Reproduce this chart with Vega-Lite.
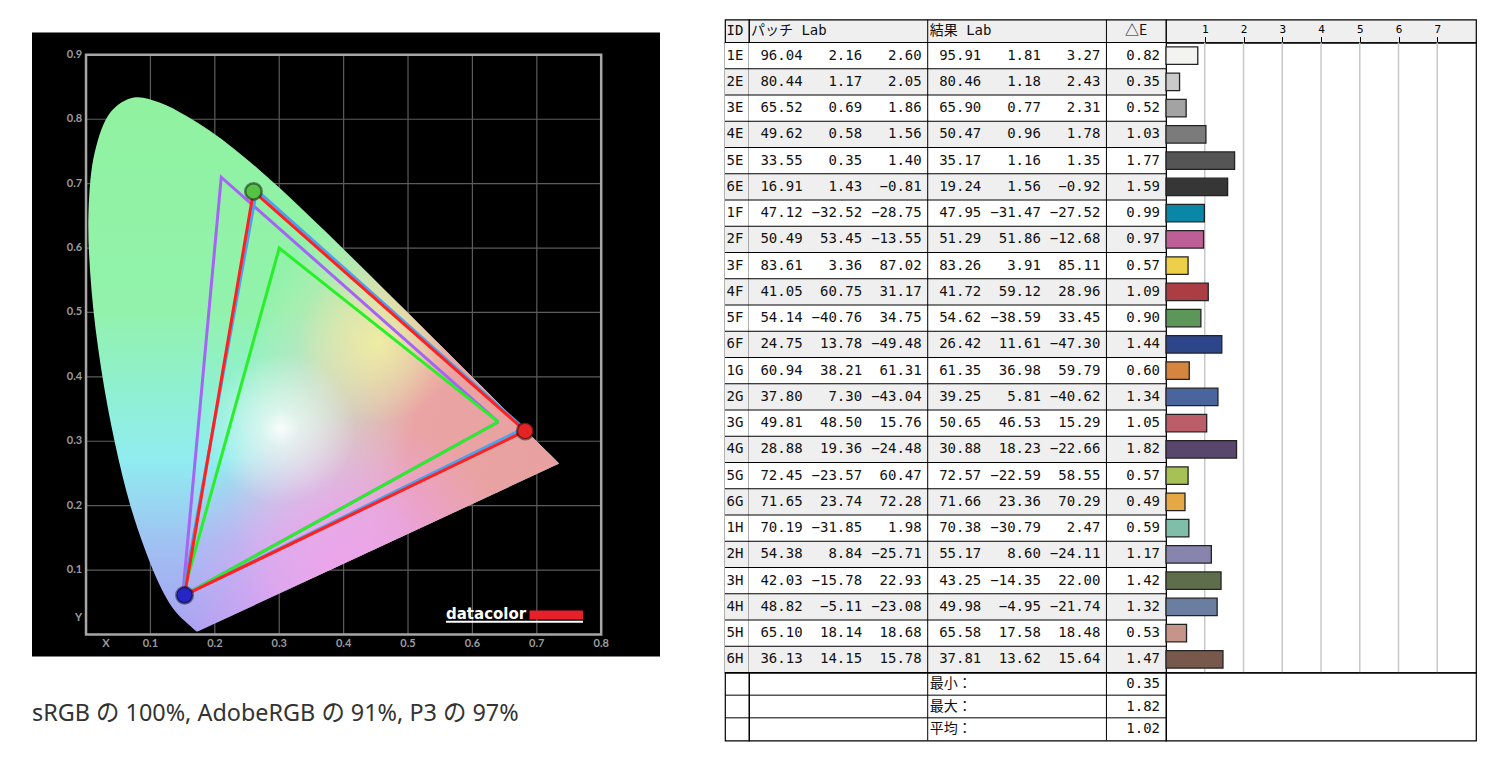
{
  "$schema": "https://vega.github.io/schema/vega-lite/v6.json",
  "background": "#ffffff",
  "padding": {"left": 32, "top": 17.5, "right": 0, "bottom": 0},
  "spacing": 65,
  "bounds": "flush",
  "locale": {"number": {"decimal": ".", "thousands": ",", "grouping": [3], "currency": ["$", ""], "minus": "-"}},
  "resolve": {"scale": {"color": "independent", "fill": "independent", "stroke": "independent"}},
  "datasets": {
    "locus": [
      {"nm": 380, "x": 0.1741, "y": 0.0050}, {"nm": 400, "x": 0.1733, "y": 0.0048}, {"nm": 420, "x": 0.1714, "y": 0.0051},
      {"nm": 430, "x": 0.1689, "y": 0.0069}, {"nm": 440, "x": 0.1644, "y": 0.0109}, {"nm": 450, "x": 0.1566, "y": 0.0177},
      {"nm": 455, "x": 0.1510, "y": 0.0227}, {"nm": 460, "x": 0.1440, "y": 0.0297}, {"nm": 465, "x": 0.1355, "y": 0.0399},
      {"nm": 470, "x": 0.1241, "y": 0.0578}, {"nm": 475, "x": 0.1096, "y": 0.0868}, {"nm": 480, "x": 0.0913, "y": 0.1327},
      {"nm": 485, "x": 0.0687, "y": 0.2007}, {"nm": 490, "x": 0.0454, "y": 0.2950}, {"nm": 495, "x": 0.0235, "y": 0.4127},
      {"nm": 500, "x": 0.0082, "y": 0.5384}, {"nm": 505, "x": 0.0039, "y": 0.6548}, {"nm": 510, "x": 0.0139, "y": 0.7502},
      {"nm": 515, "x": 0.0389, "y": 0.8120}, {"nm": 520, "x": 0.0743, "y": 0.8338}, {"nm": 525, "x": 0.1142, "y": 0.8262},
      {"nm": 530, "x": 0.1547, "y": 0.8059}, {"nm": 535, "x": 0.1929, "y": 0.7816}, {"nm": 540, "x": 0.2296, "y": 0.7543},
      {"nm": 545, "x": 0.2658, "y": 0.7243}, {"nm": 550, "x": 0.3016, "y": 0.6923}, {"nm": 555, "x": 0.3373, "y": 0.6589},
      {"nm": 560, "x": 0.3731, "y": 0.6245}, {"nm": 565, "x": 0.4087, "y": 0.5896}, {"nm": 570, "x": 0.4441, "y": 0.5547},
      {"nm": 575, "x": 0.4788, "y": 0.5202}, {"nm": 580, "x": 0.5125, "y": 0.4866}, {"nm": 585, "x": 0.5448, "y": 0.4544},
      {"nm": 590, "x": 0.5752, "y": 0.4242}, {"nm": 595, "x": 0.6029, "y": 0.3965}, {"nm": 600, "x": 0.6270, "y": 0.3725},
      {"nm": 605, "x": 0.6482, "y": 0.3514}, {"nm": 610, "x": 0.6658, "y": 0.3340}, {"nm": 620, "x": 0.6915, "y": 0.3083},
      {"nm": 630, "x": 0.7079, "y": 0.2920}, {"nm": 640, "x": 0.7190, "y": 0.2809}, {"nm": 650, "x": 0.7260, "y": 0.2740},
      {"nm": 660, "x": 0.7300, "y": 0.2700}, {"nm": 680, "x": 0.7334, "y": 0.2666}, {"nm": 700, "x": 0.7347, "y": 0.2653}
    ],
    "gamuts": [
      {"g": "AdobeRGB", "v": 0, "x": 0.64, "y": 0.33}, {"g": "AdobeRGB", "v": 1, "x": 0.21, "y": 0.71},
      {"g": "AdobeRGB", "v": 2, "x": 0.15, "y": 0.06}, {"g": "AdobeRGB", "v": 3, "x": 0.64, "y": 0.33},
      {"g": "sRGB", "v": 0, "x": 0.64, "y": 0.33}, {"g": "sRGB", "v": 1, "x": 0.30, "y": 0.60},
      {"g": "sRGB", "v": 2, "x": 0.15, "y": 0.06}, {"g": "sRGB", "v": 3, "x": 0.64, "y": 0.33},
      {"g": "P3", "v": 0, "x": 0.68, "y": 0.32}, {"g": "P3", "v": 1, "x": 0.265, "y": 0.69},
      {"g": "P3", "v": 2, "x": 0.15, "y": 0.06}, {"g": "P3", "v": 3, "x": 0.68, "y": 0.32},
      {"g": "measured", "v": 0, "x": 0.682, "y": 0.316}, {"g": "measured", "v": 1, "x": 0.260, "y": 0.688},
      {"g": "measured", "v": 2, "x": 0.153, "y": 0.061}, {"g": "measured", "v": 3, "x": 0.682, "y": 0.316}
    ],
    "patches": [
      {"id": "1E", "pL": 96.04, "pa": 2.16, "pb": 2.60, "rL": 95.91, "ra": 1.81, "rb": 3.27, "dE": 0.82},
      {"id": "2E", "pL": 80.44, "pa": 1.17, "pb": 2.05, "rL": 80.46, "ra": 1.18, "rb": 2.43, "dE": 0.35},
      {"id": "3E", "pL": 65.52, "pa": 0.69, "pb": 1.86, "rL": 65.90, "ra": 0.77, "rb": 2.31, "dE": 0.52},
      {"id": "4E", "pL": 49.62, "pa": 0.58, "pb": 1.56, "rL": 50.47, "ra": 0.96, "rb": 1.78, "dE": 1.03},
      {"id": "5E", "pL": 33.55, "pa": 0.35, "pb": 1.40, "rL": 35.17, "ra": 1.16, "rb": 1.35, "dE": 1.77},
      {"id": "6E", "pL": 16.91, "pa": 1.43, "pb": -0.81, "rL": 19.24, "ra": 1.56, "rb": -0.92, "dE": 1.59},
      {"id": "1F", "pL": 47.12, "pa": -32.52, "pb": -28.75, "rL": 47.95, "ra": -31.47, "rb": -27.52, "dE": 0.99},
      {"id": "2F", "pL": 50.49, "pa": 53.45, "pb": -13.55, "rL": 51.29, "ra": 51.86, "rb": -12.68, "dE": 0.97},
      {"id": "3F", "pL": 83.61, "pa": 3.36, "pb": 87.02, "rL": 83.26, "ra": 3.91, "rb": 85.11, "dE": 0.57},
      {"id": "4F", "pL": 41.05, "pa": 60.75, "pb": 31.17, "rL": 41.72, "ra": 59.12, "rb": 28.96, "dE": 1.09},
      {"id": "5F", "pL": 54.14, "pa": -40.76, "pb": 34.75, "rL": 54.62, "ra": -38.59, "rb": 33.45, "dE": 0.90},
      {"id": "6F", "pL": 24.75, "pa": 13.78, "pb": -49.48, "rL": 26.42, "ra": 11.61, "rb": -47.30, "dE": 1.44},
      {"id": "1G", "pL": 60.94, "pa": 38.21, "pb": 61.31, "rL": 61.35, "ra": 36.98, "rb": 59.79, "dE": 0.60},
      {"id": "2G", "pL": 37.80, "pa": 7.30, "pb": -43.04, "rL": 39.25, "ra": 5.81, "rb": -40.62, "dE": 1.34},
      {"id": "3G", "pL": 49.81, "pa": 48.50, "pb": 15.76, "rL": 50.65, "ra": 46.53, "rb": 15.29, "dE": 1.05},
      {"id": "4G", "pL": 28.88, "pa": 19.36, "pb": -24.48, "rL": 30.88, "ra": 18.23, "rb": -22.66, "dE": 1.82},
      {"id": "5G", "pL": 72.45, "pa": -23.57, "pb": 60.47, "rL": 72.57, "ra": -22.59, "rb": 58.55, "dE": 0.57},
      {"id": "6G", "pL": 71.65, "pa": 23.74, "pb": 72.28, "rL": 71.66, "ra": 23.36, "rb": 70.29, "dE": 0.49},
      {"id": "1H", "pL": 70.19, "pa": -31.85, "pb": 1.98, "rL": 70.38, "ra": -30.79, "rb": 2.47, "dE": 0.59},
      {"id": "2H", "pL": 54.38, "pa": 8.84, "pb": -25.71, "rL": 55.17, "ra": 8.60, "rb": -24.11, "dE": 1.17},
      {"id": "3H", "pL": 42.03, "pa": -15.78, "pb": 22.93, "rL": 43.25, "ra": -14.35, "rb": 22.00, "dE": 1.42},
      {"id": "4H", "pL": 48.82, "pa": -5.11, "pb": -23.08, "rL": 49.98, "ra": -4.95, "rb": -21.74, "dE": 1.32},
      {"id": "5H", "pL": 65.10, "pa": 18.14, "pb": 18.68, "rL": 65.58, "ra": 17.58, "rb": 18.48, "dE": 0.53},
      {"id": "6H", "pL": 36.13, "pa": 14.15, "pb": 15.78, "rL": 37.81, "ra": 13.62, "rb": 15.64, "dE": 1.47}
    ],
    "footer": [
      {"label": "最小：", "dE": 0.35},
      {"label": "最大：", "dE": 1.82},
      {"label": "平均：", "dE": 1.02}
    ]
  },
  "hconcat": [
    {
      "width": 628,
      "height": 637,
      "view": {"stroke": null},
      "title": {"text": "sRGB の 100%, AdobeRGB の 91%, P3 の 97%", "orient": "bottom", "anchor": "start", "frame": "group", "offset": 46, "font": "Noto Sans, Noto Sans CJK JP", "fontSize": 23.4, "fontWeight": "normal", "color": "#333333"},
      "layer": [
        {
          "data": {"values": [{}]},
          "mark": {"type": "rect", "color": "#000000"},
          "encoding": {
            "x": {"datum": -0.0839, "type": "quantitative", "scale": {"domain": [-0.0839, 0.8913], "nice": false, "zero": false}, "axis": null},
            "x2": {"datum": 0.8913},
            "y": {"datum": -0.0342, "type": "quantitative", "scale": {"domain": [-0.0342, 0.9549], "nice": false, "zero": false}, "axis": null},
            "y2": {"datum": 0.9348}
          }
        },
        {
          "data": {"values": [{"v": 0.1}, {"v": 0.2}, {"v": 0.3}, {"v": 0.4}, {"v": 0.5}, {"v": 0.6}, {"v": 0.7}]},
          "mark": {"type": "rule", "color": "#5c5c5c", "strokeWidth": 1.2},
          "encoding": {
            "x": {"field": "v", "type": "quantitative", "scale": {"domain": [-0.0839, 0.8913], "nice": false, "zero": false}, "axis": null},
            "y": {"datum": 0, "type": "quantitative", "scale": {"domain": [-0.0342, 0.9549], "nice": false, "zero": false}, "axis": null},
            "y2": {"datum": 0.9}
          }
        },
        {
          "data": {"values": [{"v": 0.1}, {"v": 0.2}, {"v": 0.3}, {"v": 0.4}, {"v": 0.5}, {"v": 0.6}, {"v": 0.7}, {"v": 0.8}]},
          "mark": {"type": "rule", "color": "#5c5c5c", "strokeWidth": 1.2},
          "encoding": {
            "y": {"field": "v", "type": "quantitative", "scale": {"domain": [-0.0342, 0.9549], "nice": false, "zero": false}, "axis": null},
            "x": {"datum": 0, "type": "quantitative", "scale": {"domain": [-0.0839, 0.8913], "nice": false, "zero": false}, "axis": null},
            "x2": {"datum": 0.8}
          }
        },
        {
          "data": {"name": "locus"},
          "mark": {"type": "line", "interpolate": "catmull-rom", "strokeWidth": 0, "strokeOpacity": 0,
            "fill": {"gradient": "linear", "x1": 0, "y1": 0, "x2": 0, "y2": 1, "stops": [
              {"offset": 0, "color": "#90f2a0"}, {"offset": 0.4, "color": "#92f2ac"}, {"offset": 0.56, "color": "#8ff0d4"},
              {"offset": 0.68, "color": "#90ecf0"}, {"offset": 0.84, "color": "#a0c0f2"}, {"offset": 1, "color": "#a8a2f2"}]}},
          "encoding": {
            "x": {"field": "x", "type": "quantitative", "scale": {"domain": [-0.0839, 0.8913], "nice": false, "zero": false}, "axis": null},
            "y": {"field": "y", "type": "quantitative", "scale": {"domain": [-0.0342, 0.9549], "nice": false, "zero": false}, "axis": null},
            "order": {"field": "nm", "type": "quantitative"}
          }
        },
        {
          "data": {"name": "locus"},
          "mark": {"type": "line", "interpolate": "catmull-rom", "strokeWidth": 0, "strokeOpacity": 0,
            "fill": {"gradient": "radial", "x1": 1, "y1": 0.686, "r1": 0, "x2": 1, "y2": 0.686, "r2": 0.68, "stops": [
              {"offset": 0, "color": "rgba(232,160,160,1)"}, {"offset": 0.5, "color": "rgba(234,164,164,1)"},
              {"offset": 0.78, "color": "rgba(244,206,190,0.55)"}, {"offset": 1, "color": "rgba(244,230,200,0)"}]}},
          "encoding": {
            "x": {"field": "x", "type": "quantitative", "scale": {"domain": [-0.0839, 0.8913], "nice": false, "zero": false}, "axis": null},
            "y": {"field": "y", "type": "quantitative", "scale": {"domain": [-0.0342, 0.9549], "nice": false, "zero": false}, "axis": null},
            "order": {"field": "nm", "type": "quantitative"}
          }
        },
        {
          "data": {"name": "locus"},
          "mark": {"type": "line", "interpolate": "catmull-rom", "strokeWidth": 0, "strokeOpacity": 0,
            "fill": {"gradient": "radial", "x1": 0.54, "y1": 0.91, "r1": 0, "x2": 0.54, "y2": 0.91, "r2": 0.32, "stops": [
              {"offset": 0, "color": "rgba(240,160,236,0.95)"}, {"offset": 0.45, "color": "rgba(236,160,240,0.7)"}, {"offset": 1, "color": "rgba(236,160,240,0)"}]}},
          "encoding": {
            "x": {"field": "x", "type": "quantitative", "scale": {"domain": [-0.0839, 0.8913], "nice": false, "zero": false}, "axis": null},
            "y": {"field": "y", "type": "quantitative", "scale": {"domain": [-0.0342, 0.9549], "nice": false, "zero": false}, "axis": null},
            "order": {"field": "nm", "type": "quantitative"}
          }
        },
        {
          "data": {"name": "locus"},
          "mark": {"type": "line", "interpolate": "catmull-rom", "strokeWidth": 0, "strokeOpacity": 0,
            "fill": {"gradient": "radial", "x1": 0.6, "y1": 0.46, "r1": 0, "x2": 0.6, "y2": 0.46, "r2": 0.15, "stops": [
              {"offset": 0, "color": "rgba(242,242,160,0.85)"}, {"offset": 1, "color": "rgba(242,242,160,0)"}]}},
          "encoding": {
            "x": {"field": "x", "type": "quantitative", "scale": {"domain": [-0.0839, 0.8913], "nice": false, "zero": false}, "axis": null},
            "y": {"field": "y", "type": "quantitative", "scale": {"domain": [-0.0342, 0.9549], "nice": false, "zero": false}, "axis": null},
            "order": {"field": "nm", "type": "quantitative"}
          }
        },
        {
          "data": {"name": "locus"},
          "mark": {"type": "line", "interpolate": "catmull-rom", "strokeWidth": 0, "strokeOpacity": 0,
            "fill": {"gradient": "radial", "x1": 0.42, "y1": 0.62, "r1": 0, "x2": 0.42, "y2": 0.62, "r2": 0.14, "stops": [
              {"offset": 0, "color": "rgba(255,255,255,0.92)"}, {"offset": 0.25, "color": "rgba(255,255,255,0.55)"},
              {"offset": 1, "color": "rgba(255,255,255,0)"}]}},
          "encoding": {
            "x": {"field": "x", "type": "quantitative", "scale": {"domain": [-0.0839, 0.8913], "nice": false, "zero": false}, "axis": null},
            "y": {"field": "y", "type": "quantitative", "scale": {"domain": [-0.0342, 0.9549], "nice": false, "zero": false}, "axis": null},
            "order": {"field": "nm", "type": "quantitative"}
          }
        },
        {
          "data": {"name": "gamuts"},
          "mark": {"type": "line", "strokeWidth": 3},
          "encoding": {
            "x": {"field": "x", "type": "quantitative", "scale": {"domain": [-0.0839, 0.8913], "nice": false, "zero": false}, "axis": null},
            "y": {"field": "y", "type": "quantitative", "scale": {"domain": [-0.0342, 0.9549], "nice": false, "zero": false}, "axis": null},
            "stroke": {"field": "g", "type": "nominal", "scale": {"domain": ["AdobeRGB", "sRGB", "P3", "measured"], "range": ["#a564f5", "#28f028", "#4ea2ec", "#ff2020"]}, "legend": null},
            "order": {"field": "v", "type": "quantitative"}
          }
        },
        {
          "data": {"name": "gamuts"},
          "transform": [{"filter": "datum.g == 'measured' && datum.v < 3"}],
          "mark": {"type": "point", "filled": true, "size": 270, "opacity": 1, "stroke": "#000000", "strokeOpacity": 0.45, "strokeWidth": 2.5},
          "encoding": {
            "x": {"field": "x", "type": "quantitative", "scale": {"domain": [-0.0839, 0.8913], "nice": false, "zero": false}, "axis": null},
            "y": {"field": "y", "type": "quantitative", "scale": {"domain": [-0.0342, 0.9549], "nice": false, "zero": false}, "axis": null},
            "fill": {"field": "v", "type": "nominal", "scale": {"domain": [0, 1, 2], "range": ["#e22424", "#55c244", "#2626c6"]}, "legend": null}
          }
        },
        {
          "data": {"values": [{}]},
          "mark": {"type": "rect", "fillOpacity": 0, "stroke": "#a6a6a6", "strokeWidth": 2.5},
          "encoding": {
            "x": {"datum": 0, "type": "quantitative", "scale": {"domain": [-0.0839, 0.8913], "nice": false, "zero": false}, "axis": null},
            "x2": {"datum": 0.8},
            "y": {"datum": 0, "type": "quantitative", "scale": {"domain": [-0.0342, 0.9549], "nice": false, "zero": false}, "axis": null},
            "y2": {"datum": 0.9}
          }
        },
        {
          "data": {"values": [
            {"t": "0.9", "v": 0.9}, {"t": "0.8", "v": 0.8}, {"t": "0.7", "v": 0.7}, {"t": "0.6", "v": 0.6}, {"t": "0.5", "v": 0.5},
            {"t": "0.4", "v": 0.4}, {"t": "0.3", "v": 0.3}, {"t": "0.2", "v": 0.2}, {"t": "0.1", "v": 0.1}, {"t": "Y", "v": 0.025}]},
          "mark": {"type": "text", "align": "right", "font": "Lato", "fontWeight": "bold", "fontSize": 11, "color": "#9c9c9c"},
          "encoding": {
            "x": {"datum": -0.006, "type": "quantitative", "scale": {"domain": [-0.0839, 0.8913], "nice": false, "zero": false}, "axis": null},
            "y": {"field": "v", "type": "quantitative", "scale": {"domain": [-0.0342, 0.9549], "nice": false, "zero": false}, "axis": null},
            "text": {"field": "t"}
          }
        },
        {
          "data": {"values": [
            {"t": "X", "v": 0.031}, {"t": "0.1", "v": 0.1}, {"t": "0.2", "v": 0.2}, {"t": "0.3", "v": 0.3}, {"t": "0.4", "v": 0.4},
            {"t": "0.5", "v": 0.5}, {"t": "0.6", "v": 0.6}, {"t": "0.7", "v": 0.7}, {"t": "0.8", "v": 0.8}]},
          "mark": {"type": "text", "align": "center", "font": "Lato", "fontWeight": "bold", "fontSize": 11, "color": "#9c9c9c"},
          "encoding": {
            "x": {"field": "v", "type": "quantitative", "scale": {"domain": [-0.0839, 0.8913], "nice": false, "zero": false}, "axis": null},
            "y": {"datum": -0.0155, "type": "quantitative", "scale": {"domain": [-0.0342, 0.9549], "nice": false, "zero": false}, "axis": null},
            "text": {"field": "t"}
          }
        },
        {
          "data": {"values": [{}]},
          "mark": {"type": "rect", "color": "#e8202a"},
          "encoding": {
            "x": {"datum": 0.6887, "type": "quantitative", "scale": {"domain": [-0.0839, 0.8913], "nice": false, "zero": false}, "axis": null},
            "x2": {"datum": 0.7717},
            "y": {"datum": 0.0233, "type": "quantitative", "scale": {"domain": [-0.0342, 0.9549], "nice": false, "zero": false}, "axis": null},
            "y2": {"datum": 0.0373}
          }
        },
        {
          "data": {"values": [{}]},
          "mark": {"type": "rule", "color": "#ffffff", "strokeWidth": 2},
          "encoding": {
            "x": {"datum": 0.559, "type": "quantitative", "scale": {"domain": [-0.0839, 0.8913], "nice": false, "zero": false}, "axis": null},
            "x2": {"datum": 0.7717},
            "y": {"datum": 0.0198, "type": "quantitative", "scale": {"domain": [-0.0342, 0.9549], "nice": false, "zero": false}, "axis": null}
          }
        },
        {
          "data": {"values": [{"t": "datacolor"}]},
          "mark": {"type": "text", "align": "left", "baseline": "alphabetic", "font": "DejaVu Sans", "fontWeight": "bold", "fontSize": 15, "color": "#ffffff"},
          "encoding": {
            "x": {"datum": 0.559, "type": "quantitative", "scale": {"domain": [-0.0839, 0.8913], "nice": false, "zero": false}, "axis": null},
            "y": {"datum": 0.0248, "type": "quantitative", "scale": {"domain": [-0.0342, 0.9549], "nice": false, "zero": false}, "axis": null},
            "text": {"field": "t"}
          }
        }
      ]
    },
    {
      "concat": [
        {
          "width": 24, "height": 23,
          "view": {"fill": "#efefef", "stroke": "#000000", "strokeWidth": 1.2},
          "data": {"values": [{}]},
          "mark": {"type": "text", "dx": -2},
          "encoding": {"text": {"value": "ID"}}
        },
        {
          "width": 417, "height": 23,
          "view": {"fill": "#efefef", "stroke": "#000000", "strokeWidth": 1.2},
          "layer": [
            {
              "data": {"values": [{"c": "rL"}, {"c": "dE"}]},
              "mark": {"type": "rule", "color": "#000000", "strokeWidth": 1},
              "encoding": {"x": {"field": "c", "type": "nominal", "bandPosition": 0, "scale": {"domain": ["pL", "pa", "pb", "rL", "ra", "rb", "dE"], "paddingInner": 0, "paddingOuter": 0}, "axis": null}}
            },
            {
              "data": {"values": [{"c": "pL", "t": "パッチ Lab"}, {"c": "rL", "t": "結果 Lab"}]},
              "mark": {"type": "text", "align": "left", "dx": 2},
              "encoding": {
                "x": {"field": "c", "type": "nominal", "bandPosition": 0, "scale": {"domain": ["pL", "pa", "pb", "rL", "ra", "rb", "dE"], "paddingInner": 0, "paddingOuter": 0}, "axis": null},
                "text": {"field": "t"}
              }
            },
            {
              "data": {"values": [{"c": "dE", "t": "△E"}]},
              "mark": {"type": "text", "align": "center", "font": "Noto Sans CJK JP", "fontSize": 14},
              "encoding": {
                "x": {"field": "c", "type": "nominal", "scale": {"domain": ["pL", "pa", "pb", "rL", "ra", "rb", "dE"], "paddingInner": 0, "paddingOuter": 0}, "axis": null},
                "text": {"field": "t"}
              }
            }
          ]
        },
        {
          "width": 310, "height": 23,
          "view": {"fill": "#efefef", "stroke": "#000000", "strokeWidth": 1.2},
          "data": {"values": [{"g": 1}, {"g": 2}, {"g": 3}, {"g": 4}, {"g": 5}, {"g": 6}, {"g": 7}]},
          "mark": {"type": "text"},
          "encoding": {
            "x": {"field": "g", "type": "quantitative", "scale": {"domain": [0, 8], "nice": false},
              "axis": {"orient": "top", "offset": -23, "values": [1, 2, 3, 4, 5, 6, 7], "format": "d", "tickSize": 6, "tickColor": "#000000", "tickWidth": 1,
                "labelFont": "DejaVu Sans Mono", "labelFontSize": 11, "labelColor": "#000000", "labelPadding": 2, "domain": false, "grid": false, "title": null}},
            "text": {"value": ""}
          }
        },
        {
          "width": 24, "height": 630,
          "view": {"stroke": "#000000", "strokeWidth": 1.2},
          "data": {"name": "patches"},
          "layer": [
            {
              "mark": {"type": "rect"},
              "encoding": {
                "y": {"field": "id", "type": "nominal", "sort": null, "scale": {"paddingInner": 0, "paddingOuter": 0}, "axis": null},
                "color": {"condition": {"test": "toNumber(substring(datum.id, 0, 1)) % 2 == 0", "value": "#efefef"}, "value": "#ffffff"}
              }
            },
            {
              "mark": {"type": "rule", "color": "#000000", "strokeWidth": 1},
              "encoding": {"y": {"field": "id", "type": "nominal", "sort": null, "bandPosition": 0, "scale": {"paddingInner": 0, "paddingOuter": 0}, "axis": null}}
            },
            {
              "mark": {"type": "text", "dx": -2},
              "encoding": {
                "y": {"field": "id", "type": "nominal", "sort": null, "scale": {"paddingInner": 0, "paddingOuter": 0}, "axis": null},
                "text": {"field": "id"}
              }
            }
          ]
        },
        {
          "width": 417, "height": 630,
          "view": {"stroke": "#000000", "strokeWidth": 1.2},
          "layer": [
            {
              "data": {"name": "patches"},
              "mark": {"type": "rect"},
              "encoding": {
                "y": {"field": "id", "type": "nominal", "sort": null, "scale": {"paddingInner": 0, "paddingOuter": 0}, "axis": null},
                "color": {"condition": {"test": "toNumber(substring(datum.id, 0, 1)) % 2 == 0", "value": "#efefef"}, "value": "#ffffff"}
              }
            },
            {
              "data": {"name": "patches"},
              "mark": {"type": "rule", "color": "#000000", "strokeWidth": 1},
              "encoding": {"y": {"field": "id", "type": "nominal", "sort": null, "bandPosition": 0, "scale": {"paddingInner": 0, "paddingOuter": 0}, "axis": null}}
            },
            {
              "data": {"values": [{"c": "rL"}, {"c": "dE"}]},
              "mark": {"type": "rule", "color": "#000000", "strokeWidth": 1},
              "encoding": {"x": {"field": "c", "type": "nominal", "bandPosition": 0, "scale": {"domain": ["pL", "pa", "pb", "rL", "ra", "rb", "dE"], "paddingInner": 0, "paddingOuter": 0}, "axis": null}}
            },
            {
              "data": {"name": "patches"},
              "transform": [{"fold": ["pL", "pa", "pb", "rL", "ra", "rb", "dE"], "as": ["c", "val"]}],
              "mark": {"type": "text", "align": "right", "dx": -6},
              "encoding": {
                "x": {"field": "c", "type": "nominal", "bandPosition": 1, "scale": {"domain": ["pL", "pa", "pb", "rL", "ra", "rb", "dE"], "paddingInner": 0, "paddingOuter": 0}, "axis": null},
                "y": {"field": "id", "type": "nominal", "sort": null, "scale": {"paddingInner": 0, "paddingOuter": 0}, "axis": null},
                "text": {"field": "val", "type": "quantitative", "format": ".2f"}
              }
            }
          ]
        },
        {
          "width": 310, "height": 630,
          "view": {"stroke": "#000000", "strokeWidth": 1.2},
          "layer": [
            {
              "data": {"values": [{"g": 1}, {"g": 2}, {"g": 3}, {"g": 4}, {"g": 5}, {"g": 6}, {"g": 7}]},
              "mark": {"type": "rule", "color": "#c8c8c8", "strokeWidth": 1.5},
              "encoding": {"x": {"field": "g", "type": "quantitative", "scale": {"domain": [0, 8], "nice": false}, "axis": null}}
            },
            {
              "data": {"name": "patches"},
              "mark": {"type": "bar", "height": {"band": 0.66}, "stroke": "#222222", "strokeWidth": 1.3, "opacity": 1},
              "encoding": {
                "x": {"field": "dE", "type": "quantitative", "scale": {"domain": [0, 8], "nice": false}, "axis": null},
                "y": {"field": "id", "type": "nominal", "sort": null, "scale": {"paddingInner": 0, "paddingOuter": 0}, "axis": null},
                "color": {"field": "id", "type": "nominal", "legend": null, "scale": {
                  "domain": ["1E", "2E", "3E", "4E", "5E", "6E", "1F", "2F", "3F", "4F", "5F", "6F", "1G", "2G", "3G", "4G", "5G", "6G", "1H", "2H", "3H", "4H", "5H", "6H"],
                  "range": ["#f3f3ef", "#c9c9c9", "#a3a3a3", "#7b7b7b", "#555555", "#363636", "#0a86a6", "#bd5f96", "#eecf48", "#ab3d44", "#5d9659", "#2d4589",
                            "#d6853f", "#4a649e", "#bc5d6a", "#58466d", "#a8c157", "#e6a745", "#7fbfaa", "#8785ae", "#5f6e4a", "#6a7f9f", "#c6958a", "#77584a"]}}
              }
            }
          ]
        },
        {
          "width": 24, "height": 68,
          "view": {"stroke": "#000000", "strokeWidth": 1.2},
          "data": {"name": "footer"},
          "mark": {"type": "rule", "color": "#000000", "strokeWidth": 1},
          "encoding": {"y": {"field": "label", "type": "nominal", "sort": null, "bandPosition": 0, "scale": {"paddingInner": 0, "paddingOuter": 0}, "axis": null}}
        },
        {
          "width": 417, "height": 68,
          "view": {"stroke": "#000000", "strokeWidth": 1.2},
          "layer": [
            {
              "data": {"name": "footer"},
              "mark": {"type": "rule", "color": "#000000", "strokeWidth": 1},
              "encoding": {"y": {"field": "label", "type": "nominal", "sort": null, "bandPosition": 0, "scale": {"paddingInner": 0, "paddingOuter": 0}, "axis": null}}
            },
            {
              "data": {"values": [{"c": "rL"}, {"c": "dE"}]},
              "mark": {"type": "rule", "color": "#000000", "strokeWidth": 1},
              "encoding": {"x": {"field": "c", "type": "nominal", "bandPosition": 0, "scale": {"domain": ["pL", "pa", "pb", "rL", "ra", "rb", "dE"], "paddingInner": 0, "paddingOuter": 0}, "axis": null}}
            },
            {
              "data": {"name": "footer"},
              "mark": {"type": "text", "align": "left", "dx": 2},
              "encoding": {
                "x": {"datum": "rL", "type": "nominal", "bandPosition": 0, "scale": {"domain": ["pL", "pa", "pb", "rL", "ra", "rb", "dE"], "paddingInner": 0, "paddingOuter": 0}, "axis": null},
                "y": {"field": "label", "type": "nominal", "sort": null, "scale": {"paddingInner": 0, "paddingOuter": 0}, "axis": null},
                "text": {"field": "label"}
              }
            },
            {
              "data": {"name": "footer"},
              "mark": {"type": "text", "align": "right", "dx": -6},
              "encoding": {
                "x": {"datum": "dE", "type": "nominal", "bandPosition": 1, "scale": {"domain": ["pL", "pa", "pb", "rL", "ra", "rb", "dE"], "paddingInner": 0, "paddingOuter": 0}, "axis": null},
                "y": {"field": "label", "type": "nominal", "sort": null, "scale": {"paddingInner": 0, "paddingOuter": 0}, "axis": null},
                "text": {"field": "dE", "type": "quantitative", "format": ".2f"}
              }
            }
          ]
        },
        {
          "width": 310, "height": 68,
          "view": {"stroke": "#000000", "strokeWidth": 1.2},
          "data": {"values": [{}]},
          "mark": {"type": "text"},
          "encoding": {"text": {"value": ""}}
        }
      ],
      "columns": 3,
      "spacing": 0,
      "align": "each",
      "bounds": "flush"
    }
  ],
  "config": {
    "view": {"stroke": null},
    "text": {"font": "DejaVu Sans Mono, Noto Sans CJK JP", "fontSize": 14, "color": "#111111"}
  }
}
